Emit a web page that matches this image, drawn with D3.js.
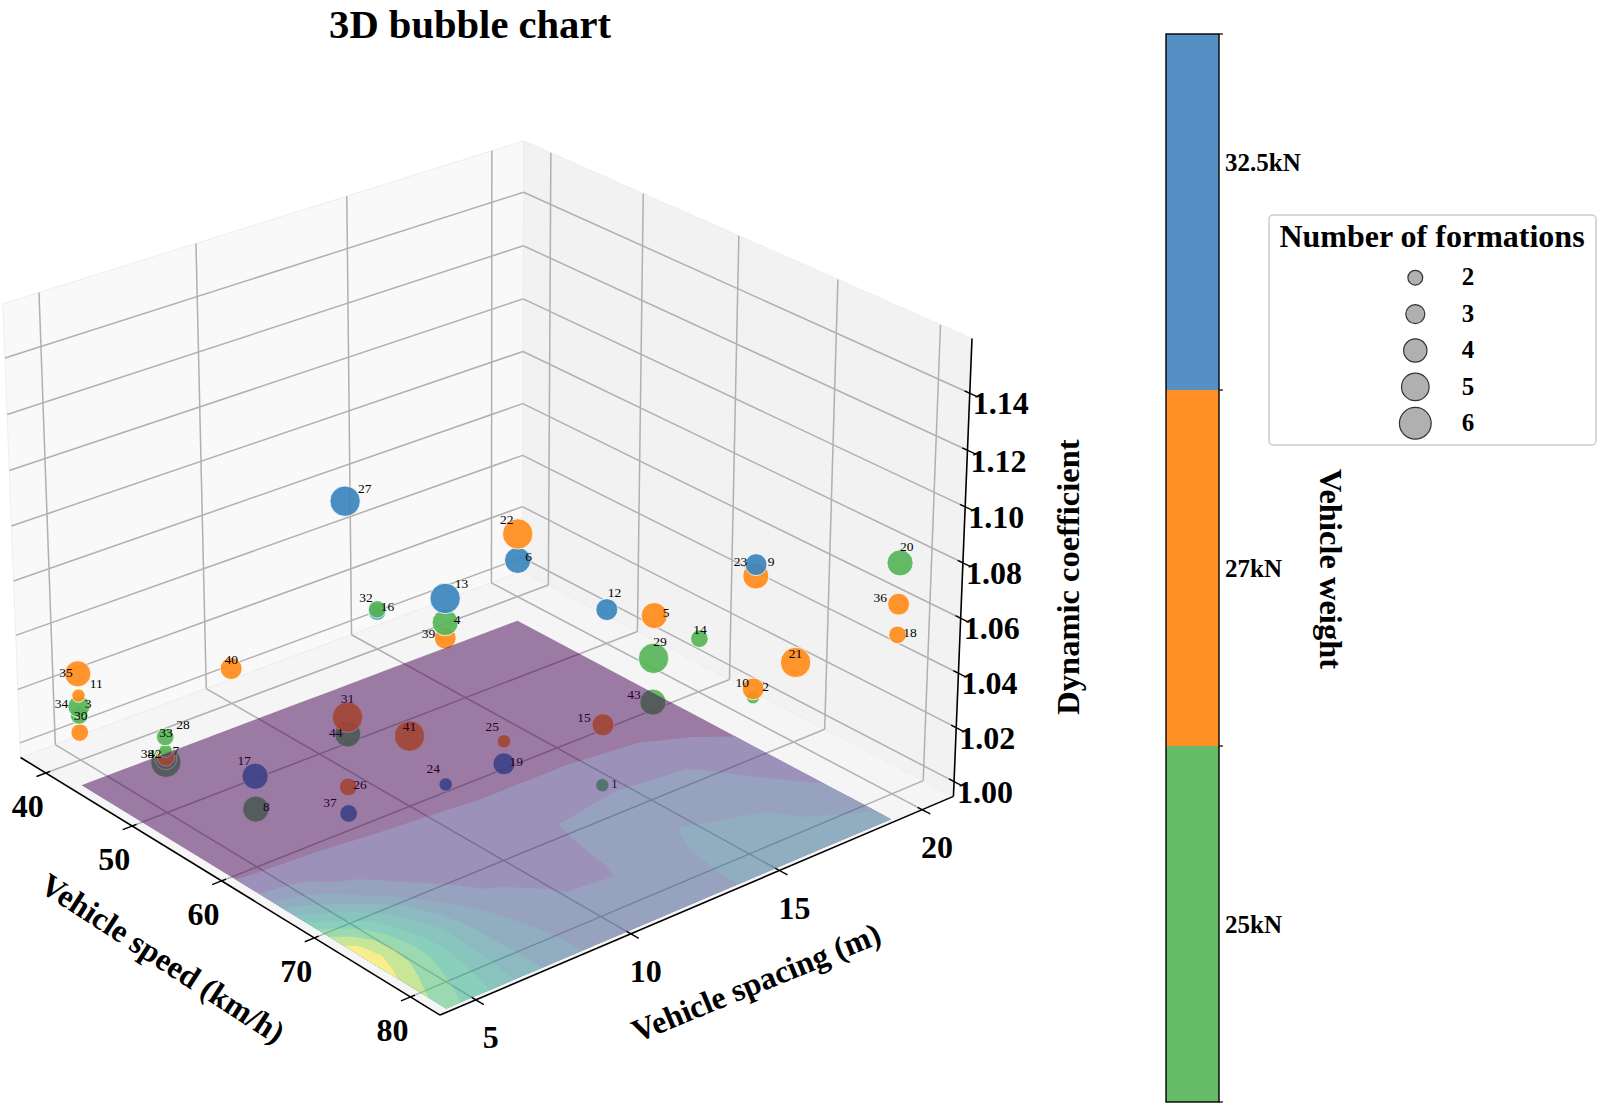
<!DOCTYPE html>
<html>
<head>
<meta charset="utf-8">
<script src="https://cdn.jsdelivr.net/npm/d3@7/dist/d3.min.js"></script>
<style>
  body { margin: 0; background: #fff; }
  text { font-family: "Liberation Serif", serif; fill: #000; }
</style>
</head>
<body>
<svg id="chart" width="1600" height="1107"></svg>
<script>

// bubbles, one entry per test case
var caseIds    = [1,2,3,4,5,6,7,8,9,10,11,12,13,14,15,16,17,18,19,20,21,22,23,24,25,26,27,28,29,30,31,32,33,34,35,36,37,38,39,40,41,42,43,44];
var caseSpeed  = [80,80,40,80,70,40,50,60,80,80,40,50,80,60,80,40,60,80,70,80,70,40,80,80,70,70,70,50,70,40,70,40,50,40,40,80,70,50,80,40,60,50,70,70];
var caseGap    = [10,15,5,5,15,20,5,5,15,15,5,20,5,20,10,15,5,20,10,20,20,20,15,5,10,5,5,5,15,5,5,15,5,5,5,20,5,5,5,10,10,5,15,5];
var caseCoef   = [1.0416,1.0514,1.0112,1.1189,1.0622,1.0087,1.0131,1.0156,1.0984,1.0544,1.0186,1.0076,1.1270,1.0148,1.0629,1.0090,1.0275,1.0531,1.0297,1.0791,1.0244,1.0190,1.0944,1.0638,1.0378,1.0433,1.1419,1.0173,1.0467,1.0048,1.0678,1.0098,1.0224,1.0145,1.0267,1.0642,1.0339,1.0144,1.1137,1.0078,1.0205,1.0149,1.0307,1.0619];
var caseWeight = [25,25,25,25,27,32.5,25,25,32.5,27,27,32.5,32.5,25,27,32.5,32.5,27,32.5,25,27,27,27,32.5,27,27,32.5,25,25,27,27,25,25,25,27,27,32.5,25,27,27,27,27,25,25];
var caseCount  = [2,2,3,5,5,5,6,5,4,4,2,4,6,3,4,3,5,3,4,5,6,6,5,2,2,3,6,2,6,3,6,3,3,4,5,4,3,4,4,4,6,3,5,5];

// where each number sits relative to its bubble
var labelDx = [12,12.5,9,12,12,11,10,10.7,15,-11,17.7,7.7,16.3,0.7,-19,10.3,-11,12.6,12.3,6.6,0,-11,-15.4,-12.3,-11.6,11.7,19.6,17.4,6.5,1,0,-11,0.7,-17.4,-11.7,-18.3,-18.7,-18.3,-16.7,0,0,-11,-19,-12];
var labelDy = [-2,-10.7,-12,-3.5,-3,-4,-12,-3,-3.3,-7,-12.7,-17.3,-15,-9.3,-7.7,-5.3,-15.7,-3,-2.3,-16.6,-9,-14.3,-15,-15.7,-15.3,-3,-12.7,-27,-17.3,-17,-19,-12.3,-4.3,-3.3,-1.7,-6.7,-11,-5.7,-4.4,-9.3,-9.3,-3.7,-7.4,-1.3];

var gridSpeed = [40,56,60,62,64,66,68,70,72,74,76,78,80];
var gridGap   = [5,5.45,5.9,6.35,6.8,7.4,8,8.75,9.5,11,12.5,13.25,15.5,17.75,20];
var surface = [
  [0,.4,1.86,3.3,5.0,6.75,8.15,9.4,9.6,9.25,8.7,8.05,7.5],
  [0,.4,1.78,3.0,4.5,5.85,7.5,8.75,8.95,8.6,7.9,7.4,7.0],
  [0,.4,1.7,2.7,4.0,5.35,6.75,7.6,7.85,7.6,7.2,6.9,6.6],
  [0,.4,1.65,2.35,3.4,4.7,5.9,6.6,6.95,6.95,6.7,6.3,6.05],
  [0,.4,1.6,1.95,2.75,4.0,5.1,5.6,6.0,6.05,5.9,5.7,5.5],
  [0,.4,1.55,1.75,2.3,3.0,4.2,4.75,5.02,5.02,4.95,4.8,4.7],
  [0,.4,1.45,1.65,1.85,2.3,3.0,3.55,4.0,4.05,4.05,4.05,4.05],
  [0,.4,1.35,1.5,1.65,1.85,2.25,2.75,3.1,3.3,3.45,3.5,3.5],
  [0,.35,1.3,1.4,1.5,1.6,1.8,2.1,2.4,2.6,2.8,2.9,2.9],
  [0,.3,1.2,1.3,1.4,1.5,1.6,1.75,1.9,2.05,2.2,2.3,2.4],
  [0,.25,1.1,1.25,1.4,1.55,1.65,1.75,1.85,2.02,2.2,2.3,2.4],
  [0,.25,1.1,1.35,1.65,2.05,2.2,2.3,2.35,2.4,2.45,2.5,2.5],
  [0,.25,1.1,1.45,1.9,2.2,2.5,2.85,3.05,3.2,3.25,3.3,3.3],
  [0,.2,.95,1.35,1.75,2.1,2.3,2.55,2.8,3.05,3.2,3.3,3.4],
  [0,.15,.5,.75,1.0,1.2,1.4,1.6,1.85,2.1,2.5,2.95,3.1]
];
var surfaceLevels = [-1,1,2,3,4,5,6,7,8,9];
var levelShade    = [0,.14,.25,.34,.43,.52,.6,.7,.85,1];

var speedTicks = [40,50,60,70,80];
var gapTicks   = [5,10,15,20];
var coefTicks  = [1.00,1.02,1.04,1.06,1.08,1.10,1.12,1.14];

var weights      = [25,27,32.5];
var weightLabels = ["25kN","27kN","32.5kN"];
var weightLabelAt = [0.5,1.5,2.64];
var legendCounts = [2,3,4,5,6];

// axis limits of the 3d box
var speedLim = [37,83], gapLim = [3.875,21.125], coefLim = [0.9945,1.159];
var floorZ = coefLim[0], topZ = coefLim[1], planeZ = 0.985;

var sx = d3.scaleLinear().domain(speedLim).range([0,1]),
    sy = d3.scaleLinear().domain(gapLim).range([0,1]),
    sz = d3.scaleLinear().domain(coefLim).range([0,1]);

// known box points -> page position, the camera is fitted from these
var anchors = [
  [37,3.875,floorZ,20.7,757],[83,3.875,floorZ,440,1015],[83,21.125,floorZ,953,797],[37,21.125,floorZ,522.4,571.7],
  [37,3.875,topZ,3,305],[37,21.125,topZ,523.5,142],[83,21.125,topZ,971.5,339],
  [37,3.875,1.14,5,356.7],[37,3.875,1.00,20,743],[83,21.125,1.14,971,393],[83,21.125,1.00,952,782],
  [37,21.125,1.14,523,190.7],[37,21.125,1.02,522.7,506.7],
  [37,5,floorZ,55,745],[37,20,floorZ,492,583],[40,21.125,floorZ,548,585],[80,21.125,floorZ,923.5,781],
  [40,3.875,floorZ,45.7,773],[80,3.875,floorZ,410.7,998],[83,5,floorZ,475.4,999],[83,20,floorZ,924,808]
];

function solve(A, b) {
  var n = b.length;
  for (var i = 0; i < n; i++) {
    var p = i;
    for (var r = i + 1; r < n; r++) if (Math.abs(A[r][i]) > Math.abs(A[p][i])) p = r;
    var t = A[i]; A[i] = A[p]; A[p] = t;
    t = b[i]; b[i] = b[p]; b[p] = t;
    for (r = i + 1; r < n; r++) {
      var f = A[r][i] / A[i][i];
      for (var c = i; c < n; c++) A[r][c] -= f * A[i][c];
      b[r] -= f * b[i];
    }
  }
  var out = new Array(n);
  for (i = n - 1; i >= 0; i--) {
    var s = b[i];
    for (c = i + 1; c < n; c++) s -= A[i][c] * out[c];
    out[i] = s / A[i][i];
  }
  return out;
}

var cam = (function() {
  var ata = d3.range(11).map(function() { return d3.range(11).map(function() { return 0; }); }),
      atb = d3.range(11).map(function() { return 0; });
  anchors.forEach(function(a) {
    var X = sx(a[0]), Y = sy(a[1]), Z = sz(a[2]), u = a[3] / 1000, v = a[4] / 1000;
    [[[X,Y,Z,1,0,0,0,0,-u*X,-u*Y,-u*Z], u], [[0,0,0,0,X,Y,Z,1,-v*X,-v*Y,-v*Z], v]].forEach(function(row) {
      for (var i = 0; i < 11; i++) {
        atb[i] += row[0][i] * row[1];
        for (var j = 0; j < 11; j++) ata[i][j] += row[0][i] * row[0][j];
      }
    });
  });
  return solve(ata, atb);
})();

function project(speed, gap, coef) {
  var X = sx(speed), Y = sy(gap), Z = sz(coef),
      w = cam[8]*X + cam[9]*Y + cam[10]*Z + 1;
  return [1000 * (cam[0]*X + cam[1]*Y + cam[2]*Z + cam[3]) / w,
          1000 * (cam[4]*X + cam[5]*Y + cam[6]*Z + cam[7]) / w];
}

var svg = d3.select("#chart");

function poly(points, fill) {
  svg.append("path")
    .attr("d", d3.line()(points.map(function(p) { return project(p[0], p[1], p[2]); })) + "Z")
    .attr("fill", fill)
    .attr("stroke", "#eeeeee")
    .attr("stroke-width", 1);
}

function seg(layer, a, b, color, width) {
  var p = project(a[0], a[1], a[2]), q = project(b[0], b[1], b[2]);
  layer.append("line")
    .attr("x1", p[0]).attr("y1", p[1]).attr("x2", q[0]).attr("y2", q[1])
    .attr("stroke", color).attr("stroke-width", width);
}

// panes
var s0 = speedLim[0], s1 = speedLim[1], g0 = gapLim[0], g1 = gapLim[1];
poly([[s0,g0,floorZ],[s0,g1,floorZ],[s0,g1,topZ],[s0,g0,topZ]], "#f9f9f9");
poly([[s0,g1,floorZ],[s1,g1,floorZ],[s1,g1,topZ],[s0,g1,topZ]], "#f2f2f2");
poly([[s0,g0,floorZ],[s1,g0,floorZ],[s1,g1,floorZ],[s0,g1,floorZ]], "#f5f5f5");

// grid
var grid = svg.append("g"), gridColor = "#b0b0b0", gridW = 1.5;
speedTicks.forEach(function(s) {
  seg(grid, [s,g0,floorZ], [s,g1,floorZ], gridColor, gridW);
  seg(grid, [s,g1,floorZ], [s,g1,topZ], gridColor, gridW);
});
gapTicks.forEach(function(g) {
  seg(grid, [s1,g,floorZ], [s0,g,floorZ], gridColor, gridW);
  seg(grid, [s0,g,floorZ], [s0,g,topZ], gridColor, gridW);
});
coefTicks.forEach(function(c) {
  seg(grid, [s0,g0,c], [s0,g1,c], gridColor, gridW);
  seg(grid, [s0,g1,c], [s1,g1,c], gridColor, gridW);
});

// axis lines and ticks
var axes = svg.append("g");
seg(axes, [s0,g0,floorZ], [s1,g0,floorZ], "#000", 1.6);
seg(axes, [s1,g0,floorZ], [s1,g1,floorZ], "#000", 1.6);
seg(axes, [s1,g1,floorZ], [s1,g1,topZ], "#000", 1.6);
speedTicks.forEach(function(s) {
  seg(axes, [s,g0-0.3,floorZ], [s,g0+0.14,floorZ], "#000", 1.4);
});
gapTicks.forEach(function(g) {
  seg(axes, [s1-0.45,g,floorZ], [s1+0.8,g,floorZ], "#000", 1.4);
});
coefTicks.forEach(function(c) {
  seg(axes, [s1-0.5,g1,c], [s1+0.8,g1,c], "#000", 1.4);
});

// bubbles, higher ones are painted last
var bubbleFill = d3.scaleOrdinal().domain(weights).range(["#58b558","#ff8c1a","#3a85bc"]);
var rScale = d3.scaleLinear().domain([2,6]).range([6.7,15.2]);

var cases = caseIds.map(function(id, i) {
  return { id: id, speed: caseSpeed[i], gap: caseGap[i], coef: caseCoef[i], weight: caseWeight[i], count: caseCount[i], dx: labelDx[i], dy: labelDy[i] };
});
cases.sort(function(a, b) { return a.coef - b.coef; });

svg.append("g").selectAll("circle")
  .data(cases)
  .enter().append("circle")
    .attr("cx", function(d) { return project(d.speed, d.gap, d.coef)[0]; })
    .attr("cy", function(d) { return project(d.speed, d.gap, d.coef)[1]; })
    .attr("r", function(d) { return rScale(d.count); })
    .attr("fill", function(d) { return bubbleFill(d.weight); })
    .attr("fill-opacity", 0.92)
    .attr("stroke", "#fff")
    .attr("stroke-width", 0.8);

svg.append("g").selectAll("text")
  .data(cases)
  .enter().append("text")
    .attr("x", function(d) { return project(d.speed, d.gap, d.coef)[0] + d.dx; })
    .attr("y", function(d) { return project(d.speed, d.gap, d.coef)[1] + d.dy; })
    .attr("dy", "0.35em")
    .attr("text-anchor", "middle")
    .attr("font-size", 13.5)
    .text(function(d) { return d.id; });

// contour plane, drawn flat inside a half transparent group
var colIndex = d3.scaleLinear().domain(d3.range(gridSpeed.length)).range(gridSpeed).clamp(true),
    rowIndex = d3.scaleLinear().domain(d3.range(gridGap.length)).range(gridGap).clamp(true);

var planePath = d3.geoPath(d3.geoTransform({
  point: function(x, y) {
    var p = project(colIndex(x - 0.5), rowIndex(y - 0.5), planeZ);
    this.stream.point(p[0], p[1]);
  }
}));

var contours = d3.contours()
  .size([gridSpeed.length, gridGap.length])
  .thresholds(surfaceLevels)(d3.merge(surface));

svg.append("g")
    .attr("opacity", 0.5)
  .selectAll("path")
  .data(contours)
  .enter().append("path")
    .attr("d", planePath)
    .attr("fill", function(d, i) { return d3.interpolateViridis(levelShade[i]); });

// tick labels
function label(x, y, str, size, angle) {
  return svg.append("text")
    .attr("transform", "translate(" + x + "," + y + ") rotate(" + (angle || 0) + ")")
    .attr("dy", "0.35em")
    .attr("text-anchor", "middle")
    .attr("font-weight", "bold")
    .attr("font-size", size)
    .text(str);
}

speedTicks.forEach(function(s) {
  var p = project(s, g0, floorZ);
  label(p[0] - 18, p[1] + 33, s, 32);
});
gapTicks.forEach(function(g) {
  var p = project(s1, g, floorZ);
  label(p[0] + 15, p[1] + 37, g, 32);
});
coefTicks.forEach(function(c) {
  var p = project(s1, g1, c);
  label(p[0] + 31, p[1] + 10, c.toFixed(2), 32);
});

label(470, 24, "3D bubble chart", 40.6);
label(163, 958, "Vehicle speed (km/h)", 32, 33);
label(756, 982, "Vehicle spacing (m)", 32, -22.2);
label(1068, 577, "Dynamic coefficient", 32.5, -90);
label(1331, 569, "Vehicle weight", 32.5, 90);

// weight colour bar
var barX = 1166, barW = 53;
var barY = d3.scaleLinear().domain([0, weights.length]).range([1102, 34]);
var barFill = d3.scaleOrdinal().domain(weights).range(["#66bb66","#ff9124","#5590c4"]);

weights.forEach(function(w, i) {
  svg.append("rect")
    .attr("x", barX).attr("y", barY(i + 1))
    .attr("width", barW).attr("height", barY(i) - barY(i + 1))
    .attr("fill", barFill(w));
  svg.append("text")
    .attr("x", barX + barW + 6).attr("y", barY(weightLabelAt[i]))
    .attr("dy", "0.35em")
    .attr("font-weight", "bold")
    .attr("font-size", 25)
    .text(weightLabels[i]);
});
svg.append("rect")
  .attr("x", barX).attr("y", barY(3))
  .attr("width", barW).attr("height", barY(0) - barY(3))
  .attr("fill", "none").attr("stroke", "#000").attr("stroke-width", 1.4);
d3.range(weights.length + 1).forEach(function(i) {
  svg.append("line")
    .attr("x1", barX + barW).attr("x2", barX + barW + 4)
    .attr("y1", barY(i)).attr("y2", barY(i))
    .attr("stroke", "#000").attr("stroke-width", 1.2);
});

// size legend
svg.append("rect")
  .attr("x", 1269).attr("y", 215).attr("width", 327).attr("height", 230).attr("rx", 4)
  .attr("fill", "#fff").attr("stroke", "#cccccc").attr("stroke-width", 1.5);
label(1432, 236, "Number of formations", 32);

var legendY = d3.scalePoint().domain(legendCounts).range([277.7, 423.3]);
legendCounts.forEach(function(n) {
  svg.append("circle")
    .attr("cx", 1415.3).attr("cy", legendY(n))
    .attr("r", rScale(n) + 0.7)
    .attr("fill", "#b0b0b0")
    .attr("stroke", "#333").attr("stroke-width", 1.2);
  label(1468, legendY(n) - 1, n, 25);
});

</script>
</body>
</html>
